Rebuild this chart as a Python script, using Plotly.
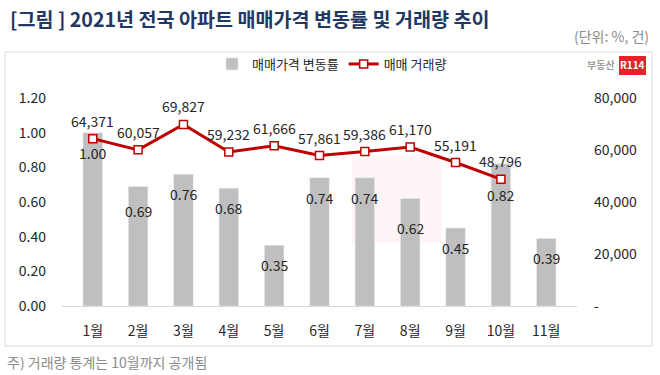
import plotly.graph_objects as go
from plotly.subplots import make_subplots

months = ["1월", "2월", "3월", "4월", "5월", "6월", "7월", "8월", "9월", "10월", "11월"]
price_change = [1.00, 0.69, 0.76, 0.68, 0.35, 0.74, 0.74, 0.62, 0.45, 0.82, 0.39]
volume = [64371, 60057, 69827, 59232, 61666, 57861, 59386, 61170, 55191, 48796, None]
left_ticks = [0, 0.2, 0.4, 0.6, 0.8, 1.0, 1.2]
left_tick_text = ["0.00", "0.20", "0.40", "0.60", "0.80", "1.00", "1.20"]
right_ticks = [0, 20000, 40000, 60000, 80000]
right_tick_text = ["-", "20,000", "40,000", "60,000", "80,000"]

# label shift tweaks (pixels below bar top)
bar_label_gap = [20, 25, 20, 20, 20, 20, 20, 29, 20, 31, 20]

FONT = "Noto Sans CJK KR"
W, H = 660, 375
ML, MR, MT, MB = 62, 83, 98, 69
PW, PH = W - ML - MR, H - MT - MB


def px(x):
    return (x - ML) / PW


def py(y):
    return (H - MB - y) / PH


fig = make_subplots(specs=[[{"secondary_y": True}]])

fig.add_trace(go.Bar(
    x=months, y=price_change, name="매매가격 변동률",
    marker=dict(color="#BFBFBF"), width=0.43,
), secondary_y=False)

fig.add_trace(go.Scatter(
    x=months, y=volume, name="매매 거래량", mode="lines+markers",
    line=dict(color="#C00000", width=3),
    marker=dict(symbol="square", size=8, color="white",
                line=dict(color="#C00000", width=1.5)),
), secondary_y=True)

annotations = []
for m, v, g in zip(months, price_change, bar_label_gap):
    annotations.append(dict(
        x=m, y=v, xref="x", yref="y", text=f"{v:.2f}", showarrow=False,
        yanchor="middle", yshift=-g, font=dict(size=14, color="#262626", family=FONT)))
for m, v in zip(months, volume):
    if v is None:
        continue
    annotations.append(dict(
        x=m, y=v, xref="x", yref="y2", text=f"{v:,}", showarrow=False,
        yanchor="middle", yshift=18, font=dict(size=14, color="#262626", family=FONT)))

# Title & notes
annotations += [
    dict(x=px(8), y=py(18), xref="paper", yref="paper", xanchor="left", yanchor="middle",
         text="<b>[그림 ] 2021년 전국 아파트 매매가격 변동률 및 거래량 추이</b>",
         showarrow=False, font=dict(size=19.6, color="#1F3864", family=FONT)),
    dict(x=px(651), y=py(36), xref="paper", yref="paper", xanchor="right", yanchor="middle",
         text="(단위: %, 건)", showarrow=False, font=dict(size=14, color="#8C8C8C", family=FONT)),
    dict(x=px(5), y=py(362), xref="paper", yref="paper", xanchor="left", yanchor="middle",
         text="주) 거래량 통계는 10월까지 공개됨", showarrow=False,
         font=dict(size=14, color="#8C8C8C", family=FONT)),
    # logo
    dict(x=px(617), y=py(65), xref="paper", yref="paper", xanchor="right", yanchor="middle",
         text="<b>부동산</b>", showarrow=False, font=dict(size=10, color="#A0A0A0", family=FONT)),
    dict(x=px(632), y=py(65), xref="paper", yref="paper", xanchor="center", yanchor="middle",
         text="<b>R114</b>", showarrow=False, font=dict(size=10, color="white", family=FONT)),
]

shapes = [
    dict(type="rect", xref="paper", yref="paper", x0=px(5), x1=px(652), y0=py(52), y1=py(346),
         line=dict(color="#D9D9D9", width=1), fillcolor="rgba(0,0,0,0)", layer="below"),
    dict(type="rect", xref="paper", yref="paper", x0=px(619), x1=px(646), y0=py(56), y1=py(75),
         line=dict(width=0), fillcolor="#E8202A", layer="below"),
    # faint watermark block
    dict(type="rect", xref="paper", yref="paper", x0=px(352), x1=px(442), y0=py(155), y1=py(243),
         line=dict(width=0), fillcolor="rgba(232,32,42,0.045)", layer="below"),
]

fig.update_layout(
    width=W, height=H, margin=dict(l=ML, r=MR, t=MT, b=MB, autoexpand=False),
    paper_bgcolor="white", plot_bgcolor="rgba(0,0,0,0)",
    font=dict(family=FONT, size=14, color="#262626"),
    showlegend=True,
    legend=dict(orientation="h", xref="container", yref="container",
                x=0.503, y=1 - 64 / H, xanchor="center", yanchor="middle",
                font=dict(size=13, color="#262626"), itemwidth=30,
                bgcolor="rgba(0,0,0,0)", traceorder="normal"),
    annotations=annotations, shapes=shapes, bargap=0.57,
)
fig.update_xaxes(domain=[0, 1], showline=True, linecolor="#D9D9D9", linewidth=1, showgrid=False,
                 automargin=False, ticks="", ticklabelstandoff=12,
                 tickfont=dict(size=14, color="#262626"))
fig.update_yaxes(range=[0, 1.2], tickvals=left_ticks, ticktext=left_tick_text, automargin=False,
                 showgrid=False, zeroline=False, ticklabelstandoff=15,
                 tickfont=dict(size=14, color="#262626"), secondary_y=False)
fig.update_yaxes(range=[0, 80000], tickvals=right_ticks, ticktext=right_tick_text, automargin=False,
                 showgrid=False, zeroline=False, ticklabelstandoff=16,
                 tickfont=dict(size=14, color="#262626"), secondary_y=True)

fig.write_html("out.html", config={"displayModeBar": False},
               post_script="document.body.style.margin='0';")
